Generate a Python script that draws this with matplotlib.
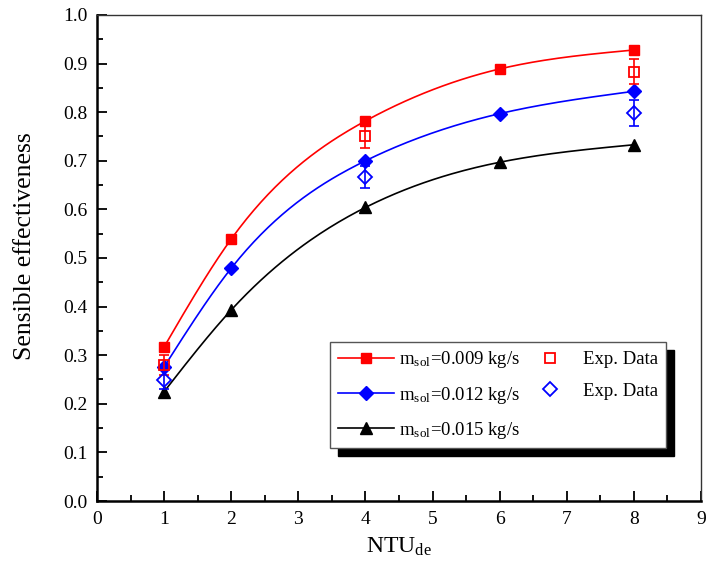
import numpy as np
import matplotlib.pyplot as plt
import matplotlib.ticker as ticker

ntu = [1, 2, 4, 6, 8]
eff_009 = [0.317, 0.539, 0.782, 0.889, 0.928]
eff_012 = [0.276, 0.479, 0.700, 0.797, 0.843]
eff_015 = [0.225, 0.393, 0.604, 0.697, 0.733]

ntu_exp = [1, 4, 8]
exp_009 = [0.280, 0.751, 0.883]
err_009 = [0.020, 0.025, 0.026]
exp_012 = [0.250, 0.667, 0.798]
err_012 = [0.020, 0.023, 0.027]


def spline(x, y, n=200):
    # natural cubic spline through the points, only used to draw the curve
    x = np.asarray(x, float)
    y = np.asarray(y, float)
    k = len(x)
    h = np.diff(x)
    A = np.zeros((k, k))
    r = np.zeros(k)
    A[0, 0] = A[-1, -1] = 1
    for i in range(1, k - 1):
        A[i, i - 1] = h[i - 1]
        A[i, i] = 2 * (h[i - 1] + h[i])
        A[i, i + 1] = h[i]
        r[i] = 6 * ((y[i + 1] - y[i]) / h[i] - (y[i] - y[i - 1]) / h[i - 1])
    m = np.linalg.solve(A, r)
    xs = np.linspace(x[0], x[-1], n)
    idx = np.clip(np.searchsorted(x, xs) - 1, 0, k - 2)
    t = xs - x[idx]
    hi = h[idx]
    a = (m[idx + 1] - m[idx]) / (6 * hi)
    b = m[idx] / 2
    c = (y[idx + 1] - y[idx]) / hi - hi * (2 * m[idx] + m[idx + 1]) / 6
    return xs, y[idx] + c * t + b * t ** 2 + a * t ** 3


if __name__ == "__main__":
    plt.rcParams["font.family"] = ["Liberation Serif", "DejaVu Serif"]
    plt.rcParams["mathtext.fontset"] = "stix"

    fig = plt.figure(figsize=(7.07, 5.74), dpi=100)
    ax = fig.add_axes([97 / 707, 73 / 574, 604 / 707, 486 / 574])

    sizes = {"s": 7, "D": 7.5, "^": 8}
    series = [(eff_009, "red", "s", "0.009"),
              (eff_012, "blue", "D", "0.012"),
              (eff_015, "black", "^", "0.015")]
    handles = []
    for ys, col, mk, lab in series:
        xs, ss = spline(ntu, ys)
        ax.plot(xs, ss, color=col, lw=1.2, zorder=2)
        ax.plot(ntu, ys, ls="none", marker=mk, color=col, ms=sizes[mk], zorder=3)
        h, = ax.plot([], [], color=col, lw=1.2, marker=mk, ms=sizes[mk],
                     label=r"m$_{\mathregular{sol}}$=" + lab + " kg/s")
        handles.append(h)

    for ys, es, col, mk in [(exp_009, err_009, "red", "s"), (exp_012, err_012, "blue", "D")]:
        ax.errorbar(ntu_exp, ys, yerr=es, ls="none", color=col, elinewidth=1.2,
                    capsize=3.8, capthick=1.2, zorder=4)
        h, = ax.plot(ntu_exp, ys, ls="none", marker=mk, mfc="none", mec=col,
                     mew=1.3, ms=sizes[mk], zorder=5, label="Exp. Data")
        handles.append(h)

    ax.set_xlim(0, 9)
    ax.set_ylim(0, 1.0)
    ax.xaxis.set_major_locator(ticker.MultipleLocator(1))
    ax.xaxis.set_minor_locator(ticker.MultipleLocator(0.5))
    ax.yaxis.set_major_locator(ticker.MultipleLocator(0.1))
    ax.yaxis.set_minor_locator(ticker.MultipleLocator(0.05))
    ax.yaxis.set_major_formatter(ticker.FormatStrFormatter("%.1f"))
    ax.tick_params(which="both", direction="in", labelsize=14, width=1.3)
    ax.tick_params(which="major", length=7, pad=7)
    ax.tick_params(which="minor", length=4)
    for s in ["left", "bottom"]:
        ax.spines[s].set_linewidth(1.8)
    for s in ["top", "right"]:
        ax.spines[s].set_linewidth(1.0)
        ax.spines[s].set_color("#333333")

    ax.set_xlabel(r"NTU$_{\mathregular{de}}$", fontsize=17, labelpad=6)
    ax.set_ylabel("Sensible effectiveness", fontsize=18.5)
    ax.yaxis.set_label_coords(-0.101, 0.524)

    leg = ax.legend(handles=handles, ncol=2, loc="upper left",
                    bbox_to_anchor=(330 / 707, 1 - 342 / 574), bbox_transform=fig.transFigure,
                    borderaxespad=0, fontsize=13.5, handlelength=3.0, columnspacing=0.05,
                    handletextpad=0.3, labelspacing=0.75, fancybox=False, framealpha=1,
                    edgecolor="#555555",
                    shadow={"ox": 6, "oy": -6, "color": "black", "alpha": 1})
    leg.get_frame().set_linewidth(1.0)

    fig.savefig("out.png", dpi=100)
